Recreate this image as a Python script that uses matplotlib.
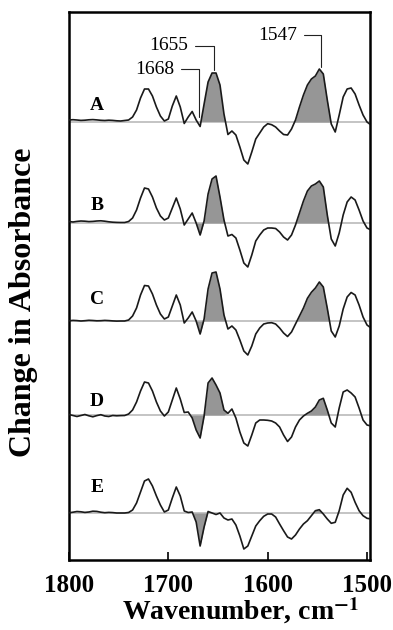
import numpy as np
import matplotlib.pyplot as plt

# sampled wavenumbers, cm-1 (every 4 cm-1)
wavenumber = np.arange(1800, 1495, -4)

# difference spectra (arbitrary units), one row = 10 points
trace_a = [2.0, 2.3, 2.0, 1.6, 1.8, 2.2, 2.4, 2.1, 1.7, 1.5,
           1.8, 1.6, 1.2, 1.0, 1.5, 2, 5, 12, 24, 33,
           33, 26, 15, 6, 1, 3, 16, 26, 15, -1.5,
           5, 10.5, 2, -4.5, 18, 40, 49, 49, 37, 8,
           -12.5, -9, -13, -25, -38, -42, -30, -17, -11, -5,
           -1.7, -2.7, -5, -9, -12.5, -13, -7, 2, 15, 27,
           37, 43, 46, 53, 48, 22, -2, -10, 7, 25,
           33, 34, 28, 17, 7, 0, -3]
trace_b = [1.5, 1.0, 1.6, 2.0, 1.8, 1.4, 1.6, 2.0, 2.2, 1.8,
           1.2, 0.8, 0.6, 0.5, 0.5, 1.5, 5, 13, 25, 35,
           34, 26, 15, 7, 3, 5, 15, 25, 14, -2,
           4, 10, 0, -12, 2, 29, 44, 47, 26, 3,
           -13, -11.5, -15, -27, -40, -44, -32, -18, -12, -7,
           -5, -5, -5.5, -9, -14, -17, -12, -2, 10, 22,
           32, 37, 39, 42, 36, 8, -16, -23, -10, 8,
           21, 26, 23, 13, 2, -5, -7]
trace_c = [0.2, 0.6, 0.4, 0.0, 0.3, 0.7, 0.5, 0.2, 0.3, 0.6,
           0.4, 0.1, -0.1, 0.0, 0, 1, 5, 13, 26, 35.5,
           35, 27, 16, 7, 2, 4, 15, 26, 16, -2,
           3, 9, 0, -13, 2, 32, 48, 49, 32, 6,
           -8, -5, -9, -19, -30, -34, -25, -13, -7, -3,
           -2, -1.7, -3, -7, -12, -15.5, -11, -3, 5, 13,
           22.7, 28.7, 33, 39, 34, 12.7, -10, -16, -5, 12,
           24, 28.5, 26, 16, 4, -4, -7]
trace_d = [0.5, -0.5, -1.5, -0.5, 0.5, -0.8, -1.8, -0.6, 0.3, -1.0,
           -1.5, -0.5, -0.8, -0.6, -0.5, 1, 5, 13, 24, 33,
           32, 24, 13, 4, -1, 3, 15, 27, 16, 2.5,
           3, -3, -15, -23, -1, 32, 37, 30, 22, 5,
           1.7, 6, -3, -17, -28, -31, -20, -8, -5, -5,
           -5.3, -6, -8, -12, -20, -26.5, -22, -12, -5, -1,
           1.7, 4, 8, 15, 16.7, 5, -8, -12, 7, 23,
           25, 22, 18, 7, -5, -10, -11]
trace_e = [0.2, 0.8, 1.5, 1.2, 0.6, 1.0, 1.8, 1.6, 0.8, 0.3,
           0.6, 0.4, 0.0, 0.0, 0, 0.5, 3, 10, 21, 32,
           34, 27, 17, 8, 1, 3, 15, 26, 17, 2,
           0.5, 1, -9, -33, -14, 1.5, 0, -1.5, 0, -5,
           -7, -6, -12, -23, -36, -33, -23, -13, -7.7, -3.3,
           -1, -1, -4, -11, -17.7, -24, -26, -22, -16, -11,
           -7.7, -2.7, 2.3, 3.3, -1, -6, -10.3, -9.3, 2.3, 18,
           24.7, 20.7, 10.7, 2.3, -2.7, -5.3, -6]

names = ["A", "B", "C", "D", "E"]
traces = [trace_a, trace_b, trace_c, trace_d, trace_e]
offsets = [0, -101, -199, -293, -391]
label_heights = [16, 18, 21, 14, 26]
shade_dip = [False, True, True, True, True]
shade_amide1 = [True, True, True, True, False]

ann_labels = ["1655", "1668", "1547"]
ann_peak_wn = [1654, 1669, 1546]
ann_tip = [52, 5, 55]
ann_text_wn = [1680, 1694, 1570]
ann_text_y = [76, 53, 87]

serif = ["Liberation Serif", "DejaVu Serif"]
plt.rcParams["font.family"] = serif
plt.rcParams["mathtext.fontset"] = "stix"

fig = plt.figure(figsize=(3.93, 6.30), dpi=100)
ax = fig.add_axes([69 / 393, 70 / 630, 301 / 393, 548 / 630])

for name, vals, off, h, dip, am1 in zip(names, traces, offsets, label_heights,
                                        shade_dip, shade_amide1):
    v = np.array(vals, dtype=float)
    y = v + off
    ax.axhline(off, color="#b4b4b4", lw=1.1, zorder=1)
    if dip:
        m = (wavenumber <= 1676) & (wavenumber >= 1660) & (v < 0)
        ax.fill_between(wavenumber, y, off, where=m, interpolate=True,
                        color="#969696", lw=0, zorder=2)
    if am1:
        m = (wavenumber <= 1672) & (wavenumber >= 1641) & (v > 0)
        ax.fill_between(wavenumber, y, off, where=m, interpolate=True,
                        color="#969696", lw=0, zorder=2)
    m = (wavenumber <= 1580) & (wavenumber >= 1534) & (v > 0)
    ax.fill_between(wavenumber, y, off, where=m, interpolate=True,
                    color="#969696", lw=0, zorder=2)
    ax.plot(wavenumber, y, color="#1a1a1a", lw=1.2, zorder=3,
            solid_joinstyle="round")
    ax.text(1772, off + h, name, ha="center", va="center",
            fontsize=14, fontweight="bold")

for lab, pk, tip, tx, ty in zip(ann_labels, ann_peak_wn, ann_tip,
                                ann_text_wn, ann_text_y):
    ax.annotate(lab, xy=(pk, tip), xytext=(tx, ty), ha="right", va="center",
                fontsize=14,
                arrowprops=dict(arrowstyle="-", lw=0.8, color="#222222",
                                shrinkA=3, shrinkB=0,
                                connectionstyle="angle,angleA=0,angleB=90,rad=0"))

ax.set_xlim(1800, 1497)
ax.set_ylim(-438, 110)
ax.set_xticks([1800, 1700, 1600, 1500])
ax.set_yticks([])
ax.tick_params(axis="x", direction="in", length=6, width=1.2, pad=10,
               labelsize=18)
for t in ax.get_xticklabels():
    t.set_fontweight("bold")
for s in ax.spines.values():
    s.set_linewidth(1.8)

fig.text(240 / 393, 1 - 611 / 630, r"Wavenumber, cm$^{\mathbf{-1}}$",
         ha="center", va="center", fontsize=20, fontweight="bold")
fig.text(24 / 393, 1 - 302 / 630, "Change in Absorbance", rotation=90,
         ha="center", va="center", fontsize=23, fontweight="bold")

fig.savefig("out.png", dpi=100)
